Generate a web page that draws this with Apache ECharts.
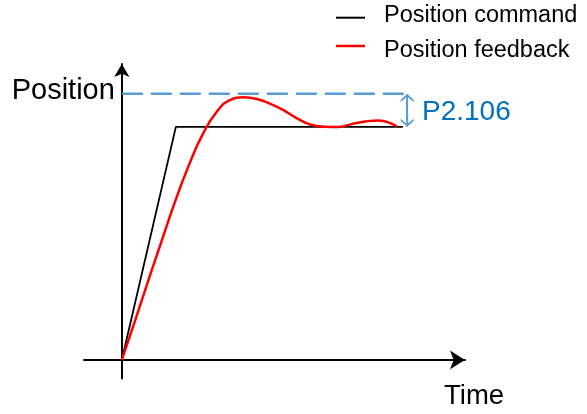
<!DOCTYPE html>
<html>
<head>
<meta charset="utf-8">
<script src="https://cdn.jsdelivr.net/npm/echarts@6/dist/echarts.min.js"></script>
<style>
  html, body { margin: 0; padding: 0; background: #fff; }
  #main { width: 587px; height: 414px; }
</style>
</head>
<body>
<div id="main"></div>
<script>
// command: ramp then hold
var commandTime = [0, 10, 52];
var commandPos = [0, 100, 100];

// feedback (overshoot then damped ripple)
var feedbackTime = [0, 2.5, 5, 7.5, 10, 12.5, 15, 17.5, 20, 22.5, 25, 27.5, 30, 32.5, 35, 37.5, 40, 42.5, 45, 47.5, 50, 50.9];
var feedbackPos = [0, 17.2, 34.8, 52.0, 68.9, 84.1, 97.0, 106.3, 111.5, 112.7, 112.0, 109.9, 107.1, 103.6, 100.9, 100.1, 100.0, 101.2, 102.3, 102.8, 101.3, 100.1];

var overshootLevel = 114.2;
var overshootEnd = 52.8;
var arrowTime = 52.8;
var arrowInset = 2.9;

var commandData = commandTime.map(function (t, i) { return [t, commandPos[i]]; });
var feedbackData = feedbackTime.map(function (t, i) { return [t, feedbackPos[i]]; });

var FONT = "'Liberation Sans', Arial, sans-serif";
var chevron = 'path://M5,0 L10,6 L10,8.6 L5,2.6 L0,8.6 L0,6 Z M4.25,0 L5.75,0 L5.75,14 L4.25,14 Z';
var legendText = { color: '#000', fontFamily: FONT, fontSize: 23.5, lineHeight: 24 };

var myChart = echarts.init(document.getElementById('main'));
var option = {
    animation: false,
    backgroundColor: '#fff',
    title: {
        text: 'P2.106',
        left: 422,
        top: 98,
        padding: 0,
        textStyle: { color: '#0070C0', fontFamily: FONT, fontSize: 28, fontWeight: 'normal', lineHeight: 28 }
    },
    legend: [
        {
            data: ['Position command'],
            left: 336, top: 4, padding: 0,
            icon: 'rect', itemWidth: 29, itemHeight: 2,
            formatter: '{t|{name}}\n{g| }',
            textStyle: {
                padding: [0, 0, 0, 14],
                rich: { t: legendText, g: { lineHeight: 3.4, fontSize: 2 } }
            }
        },
        {
            data: ['Position feedback'],
            left: 336, top: 33, padding: 0,
            icon: 'rect', itemWidth: 29, itemHeight: 2.5,
            formatter: '{g| }\n{t|{name}}',
            textStyle: {
                padding: [0, 0, 0, 14],
                rich: { t: legendText, g: { lineHeight: 10, fontSize: 2 } }
            }
        }
    ],
    grid: { left: 84, right: 122, top: 64, bottom: 35.4, outerBoundsMode: 'none' },
    xAxis: {
        type: 'value',
        min: -7,
        max: 63.5,
        name: 'Time',
        nameLocation: 'end',
        nameGap: -21,
        nameTextStyle: { color: '#000', fontFamily: FONT, fontSize: 27.5, lineHeight: 27.5, align: 'left', verticalAlign: 'top', padding: [23, 0, 0, 0] },
        axisLine: { onZero: true, symbol: ['none', 'arrow'], symbolSize: [14, 15], lineStyle: { color: '#000', width: 2 } },
        axisTick: { show: false },
        axisLabel: { show: false },
        splitLine: { show: false }
    },
    yAxis: {
        type: 'value',
        min: -8,
        max: 127,
        name: 'Position',
        nameLocation: 'end',
        nameGap: -27,
        nameTextStyle: { color: '#000', fontFamily: FONT, fontSize: 29, align: 'right', verticalAlign: 'middle', padding: [0, 7, 0, 0] },
        axisLine: { onZero: true, symbol: ['none', 'arrow'], symbolSize: [11.5, 13], lineStyle: { color: '#000', width: 2 } },
        axisTick: { show: false },
        axisLabel: { show: false },
        splitLine: { show: false }
    },
    series: [
        {
            name: 'overshoot',
            type: 'line',
            symbol: 'none',
            data: [[0, overshootLevel], [overshootEnd, overshootLevel]],
            lineStyle: { color: '#5B9BD5', width: 2.5, type: [21, 8] },
            markLine: {
                silent: true,
                symbol: [chevron, chevron],
                symbolSize: [13, 13.4],
                label: { show: false },
                lineStyle: { color: '#5B9BD5', width: 2, type: 'solid' },
                data: [[
                    { coord: [arrowTime, overshootLevel - arrowInset] },
                    { coord: [arrowTime, commandPos[1] + arrowInset] }
                ]]
            }
        },
        {
            name: 'Position command',
            type: 'line',
            symbol: 'none',
            data: commandData,
            itemStyle: { color: '#000' },
            lineStyle: { color: '#000', width: 1.8 }
        },
        {
            name: 'Position feedback',
            type: 'line',
            symbol: 'none',
            smooth: 0.5,
            data: feedbackData,
            itemStyle: { color: '#FF0000' },
            lineStyle: { color: '#FF0000', width: 2.5 }
        }
    ]
};
myChart.setOption(option);
</script>
</body>
</html>
